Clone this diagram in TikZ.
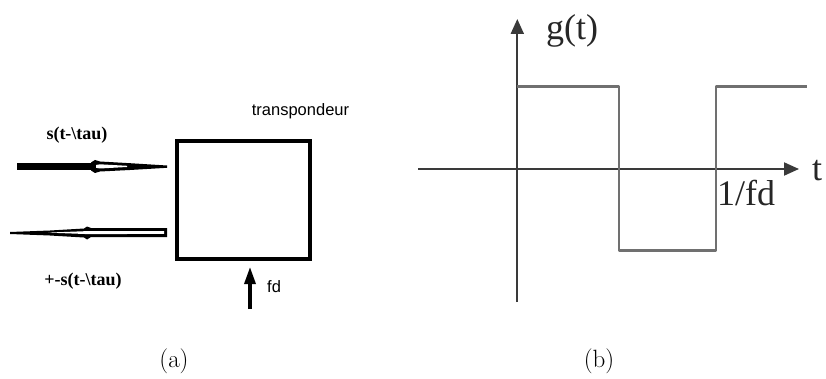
\documentclass[tikz,border=0pt]{standalone}
\usepackage{fontspec}
\usetikzlibrary{arrows.meta}
\newfontfamily\tnr{Liberation Serif}
\newfontfamily\lsans{Liberation Sans}
\definecolor{wavegray}{HTML}{707070}
\definecolor{axisgray}{HTML}{3A3A3A}
\begin{document}
\begin{tikzpicture}[x=1pt,y=-1pt,
  boldlab/.style={font=\tnr\fontsize{18}{21}\selectfont\bfseries, inner sep=0pt},
  sanslab/.style={font=\lsans\fontsize{16.5}{19}\selectfont, inner sep=0pt},
  plotlab/.style={font=\tnr\fontsize{36}{40}\selectfont, inner sep=0pt, text=black!85},
  caplab/.style={font=\fontsize{25}{29}\selectfont, inner sep=0pt},
  axisline/.style={draw=axisgray, line width=2pt, -{Triangle[width=13pt,length=15pt]}},
  waveline/.style={draw=wavegray, line width=2.6pt, line join=round}]
\useasboundingbox (0,0) rectangle (826,379);

% ---------- (a) ----------
\node[draw, line width=4pt, minimum width=133pt, minimum height=117pt, inner sep=0pt] (box) at (243.5,200) {};
\node[sanslab] (tr) at (300.5,111.5) {transpondeur};
\node[boldlab] (s1) at (77,135) {s(t-\textbackslash tau)};
\node[boldlab] (s2) at (83,281.5) {+-s(t-\textbackslash tau)};

% top arrow (pointing right)
\fill (17,163) rectangle (93,170);
\fill (91,162.5) -- (95,160) -- (100,161.5) -- (130,163.2) -- (167,165.5) -- (167,167.8)
      -- (130,170) -- (100,171.5) -- (95,173) -- (91,170.5) -- cycle;
\fill[white] (96,165) -- (100,164.3) -- (127,165.8) -- (127,167) -- (100,168.5) -- (96,167.8) -- cycle;

% bottom arrow (pointing left)
\fill (167,228) -- (91,228) -- (87,226.5) -- (84,228.5) -- (50,230.5) -- (10,232) -- (10,234)
      -- (50,235.5) -- (84,237.5) -- (87,239.5) -- (91,237) -- (167,237) -- cycle;
\fill[white] (164,231.2) -- (90,231) -- (48,232.6) -- (90,234.2) -- (164,233.8) -- cycle;

% fd arrow
\coordinate (fdfoot) at (250,309);
\coordinate (fdtip) at (250,267);
\draw[line width=3.2pt, -{Triangle[width=11pt,length=17pt]}] (fdfoot) -- (fdtip);
\node[sanslab, anchor=west] (fd) at (267,287) {fd};

\node[caplab] (capa) at (174,361) {(a)};

% ---------- (b) ----------
\coordinate (ybot) at (517.3,302);
\coordinate (ytop) at (517.3,19);
\coordinate (xleft) at (418,169);
\coordinate (xright) at (799,169);
\draw[axisline] (ybot) -- (ytop);
\draw[axisline] (xleft) -- (xright);
\draw[waveline] (517.3,86.7) -- (619,86.7) -- (619,250.5) -- (716,250.5) -- (716,86.7) -- (807,86.7);
\node[plotlab, anchor=west] (g) at (546,31) {g(t)};
\node[plotlab, anchor=west] (ifd) at (717,193) {1/fd};
\node[plotlab, anchor=west] (tt) at (812,171) {t};

\node[caplab] (capb) at (599,361) {(b)};
\end{tikzpicture}
\end{document}
